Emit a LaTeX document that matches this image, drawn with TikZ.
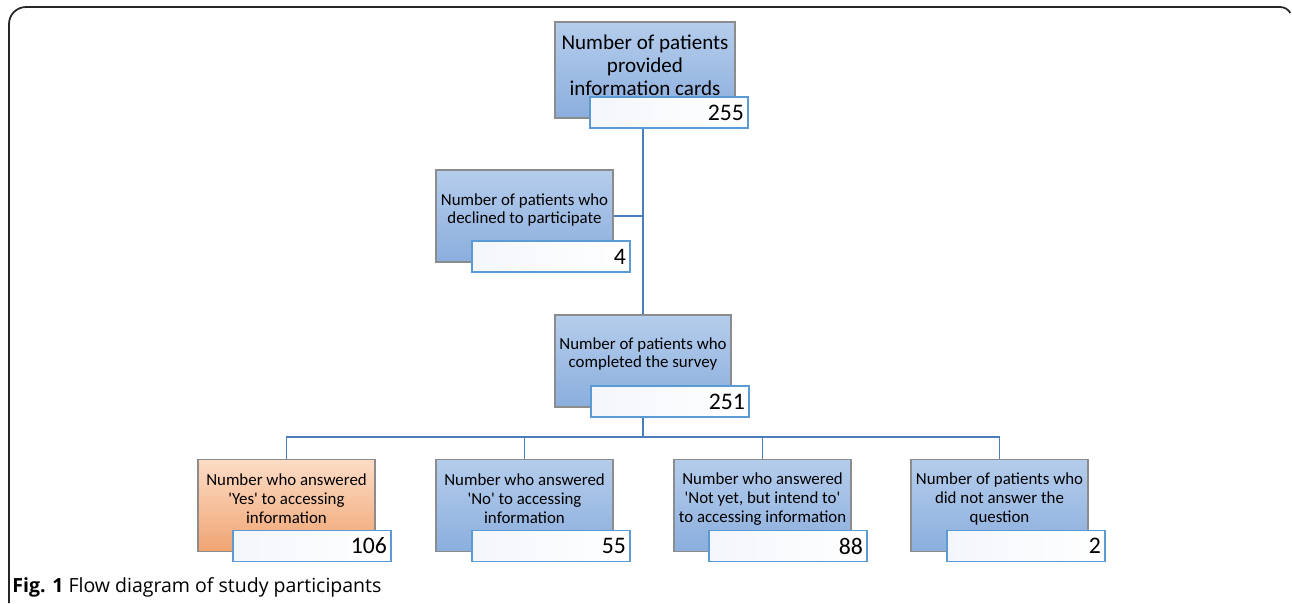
\documentclass[tikz,border=0pt]{standalone}
\usepackage{fontspec}
\setmainfont{Carlito}
\newfontfamily\capfont{Open Sans}
\usetikzlibrary{positioning}

\definecolor{boxtop}{HTML}{B5CDEC}
\definecolor{boxbot}{HTML}{8BAEDD}
\definecolor{yestop}{HTML}{FCDCC6}
\definecolor{yesbot}{HTML}{F0A472}
\definecolor{numline}{HTML}{5B9BD5}
\definecolor{numfill}{HTML}{F3F6FB}
\definecolor{linkblue}{HTML}{4A7EBB}
\definecolor{boxline}{HTML}{8C8C8C}

\begin{document}
\begin{tikzpicture}[x=0.02cm, y=-0.02cm,
  mainbox/.style={draw=boxline, line width=0.6pt, top color=boxtop, bottom color=boxbot,
    minimum width=3.54cm, minimum height=1.84cm, inner sep=0pt},
  yesbox/.style={mainbox, top color=yestop, bottom color=yesbot},
  numbox/.style={draw=numline, line width=0.6pt, left color=numfill, right color=white,
    minimum width=3.16cm, minimum height=0.62cm, text width=3.0cm, inner xsep=0.08cm,
    inner ysep=0pt, align=right, font=\fontsize{13.5}{13.5}\selectfont, anchor=south east},
  boxtext/.style={align=center, font=\fontsize{9.6}{10.8}\selectfont, inner sep=0pt},
  link/.style={draw=linkblue, line width=1.1pt}]
\useasboundingbox (0,0) rectangle (1292,603);
\draw[line width=1pt, black!85] (9,603) -- (9,24) arc[start angle=180, end angle=90, radius=0.34cm] -- (1280,7) arc[start angle=90, end angle=30, radius=0.24cm];

\node[mainbox, minimum width=3.6cm, minimum height=1.92cm] (cards) at (645,70) {};
\node[boxtext, font=\fontsize{12}{13}\selectfont] (cardstext) at (645,65) {Number of patients\\provided\\information cards};
\node[numbox] (cardsnum) at ([xshift=0.26cm, yshift=-0.2cm]cards.south east) {255};

\node[mainbox] (declined) at (524.5,216) {};
\node[boxtext] (declinedtext) at (524.5,210) {Number of patients who\\declined to participate};
\node[numbox] (declinednum) at ([xshift=0.34cm, yshift=-0.2cm]declined.south east) {4};

\node[mainbox, minimum width=3.52cm] (completed) at (643,361) {};
\node[boxtext] (completedtext) at (643,354) {Number of patients who\\completed the survey};
\node[numbox] (completednum) at ([xshift=0.36cm, yshift=-0.2cm]completed.south east) {251};

\node[yesbox] (yes) at (286.5,505.5) {};
\node[boxtext] (yestext) at (286.5,499) {Number who answered\\\textquotesingle Yes\textquotesingle{} to accessing\\information};
\node[numbox] (yesnum) at ([xshift=0.32cm, yshift=-0.2cm]yes.south east) {106};

\node[mainbox] (no) at (524.5,505.5) {};
\node[boxtext] (notext) at (524.5,499) {Number who answered\\\textquotesingle No\textquotesingle{} to accessing\\information};
\node[numbox] (nonum) at ([xshift=0.34cm, yshift=-0.2cm]no.south east) {55};

\node[mainbox] (notyet) at (762.5,505.5) {};
\node[boxtext] (notyettext) at (762.5,499) {Number who answered\\\textquotesingle Not yet, but intend to\textquotesingle\\to accessing information};
\node[numbox] (notyetnum) at ([xshift=0.32cm, yshift=-0.2cm]notyet.south east) {88};

\node[mainbox] (noans) at (999.5,505.5) {};
\node[boxtext] (noanstext) at (999.5,499) {Number of patients who\\did not answer the\\question};
\node[numbox] (noansnum) at ([xshift=0.34cm, yshift=-0.2cm]noans.south east) {2};

\coordinate (fork) at (643,437);
\draw[link] (cardsnum.south -| completed.north) -- (completed.north);
\draw[link] (declined.east) -- (declined.east -| completed.north);
\draw[link] (completednum.south -| fork) -- (fork);
\draw[link] (yes.north) -- (yes.north |- fork) -- (noans.north |- fork) -- (noans.north);
\draw[link] (no.north) -- (no.north |- fork);
\draw[link] (notyet.north) -- (notyet.north |- fork);

\node[anchor=base west, inner sep=0pt, font=\capfont\fontsize{11.1}{13}\selectfont] (caption) at (12,592) {\textbf{Fig. 1} Flow diagram of study participants};
\end{tikzpicture}
\end{document}
